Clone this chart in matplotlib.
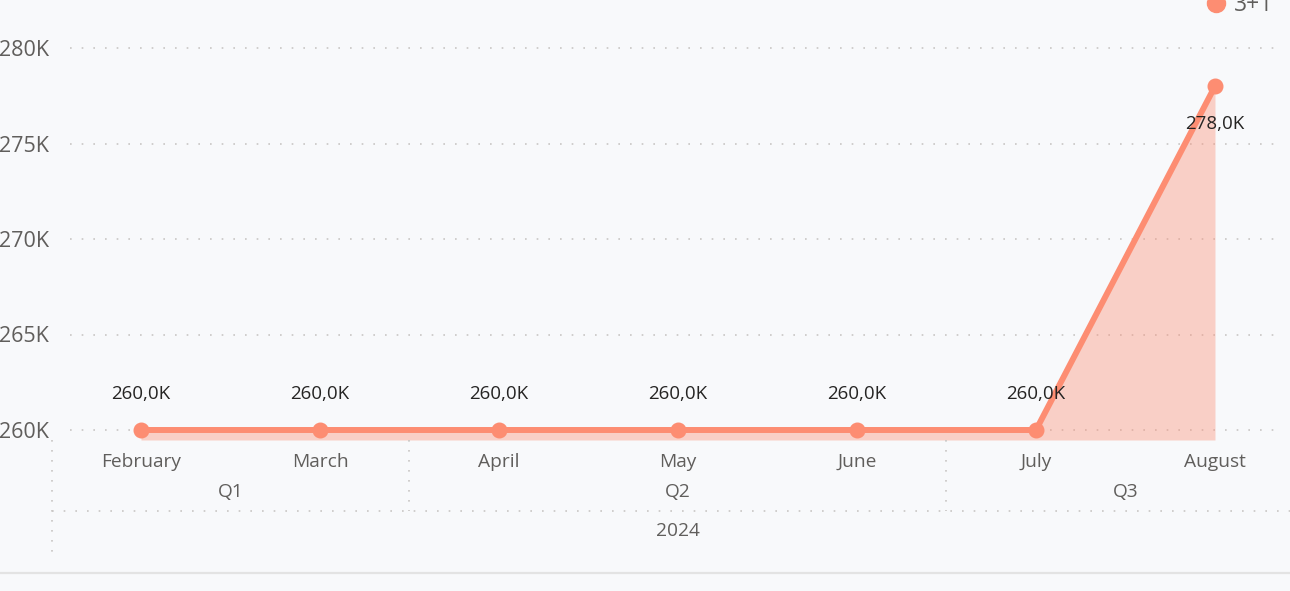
import matplotlib
matplotlib.use("Agg")
import matplotlib.pyplot as plt
from matplotlib.lines import Line2D
from matplotlib import transforms
import numpy as np

months = ["February", "March", "April", "May", "June", "July", "August"]
values_k = [260.0, 260.0, 260.0, 260.0, 260.0, 260.0, 278.0]
quarters = ["Q1", "Q2", "Q3"]
quarter_groups = [[0, 1], [2, 3, 4], [5, 6]]
year_label = "2024"
series_name = "3+1"
yticks_k = [260, 265, 270, 275, 280]

LINE = "#FD8D72"
BG = "#F8F9FB"
AXIS_TXT = "#605E5C"
DATA_TXT = "#252423"
GRID = "#C8C6C4"
FONT = "Open Sans"

W, H = 1290, 591
fig = plt.figure(figsize=(W / 100, H / 100), dpi=100, facecolor=BG)
ax = fig.add_axes([52 / W, 1 - 440 / H, 1 - 52 / W, 440 / H])
ax.set_facecolor(BG)

x = np.arange(len(months))
ybot = 260 - 10 / 19.1
ytop = 260 + 430 / 19.1
ax.set_ylim(ybot, ytop)
ax.set_xlim(-0.497, (1290 - 141) / 179)

# gridlines
for t in yticks_k:
    ax.axhline(t, xmin=18 / 1238, xmax=1228 / 1238, color=GRID, lw=1.2,
               linestyle=(0, (1, 6)), zorder=1)

ax.fill_between(x, values_k, ybot, color=LINE, alpha=0.38, lw=0, zorder=2)
ax.plot(x, values_k, color=LINE, lw=4.3, marker="o", markersize=10.5,
        solid_capstyle="round", zorder=3, label=series_name)

for xi, v in zip(x, values_k):
    off = -27 if (v == max(values_k) and v > min(values_k)) else 26
    ax.annotate(f"{v:.1f}K".replace(".", ","), (xi, v), xytext=(0, off),
                textcoords="offset points", ha="center",
                va="center", fontsize=13.5, color=DATA_TXT, family=FONT, zorder=4)

ax.set_yticks(yticks_k)
ax.set_yticklabels([f"{t}K" for t in yticks_k], fontsize=15.5, color=AXIS_TXT, family=FONT)
ax.set_xticks(x)
ax.set_xticklabels(months, fontsize=13.8, color=AXIS_TXT, family=FONT)
ax.tick_params(axis="both", length=0)
ax.tick_params(axis="y", pad=2)
ax.tick_params(axis="x", pad=9.5)
for s in ax.spines.values():
    s.set_visible(False)

tr = transforms.blended_transform_factory(ax.transData, fig.transFigure)
def fy(p):
    return 1 - p / H

for q, grp in zip(quarters, quarter_groups):
    ax.text(np.mean(grp), fy(492), q, transform=tr, ha="center", va="center",
            fontsize=13.8, color=AXIS_TXT, family=FONT, clip_on=False)
ax.text(np.mean(x), fy(531), year_label, transform=tr, ha="center", va="center",
        fontsize=13.8, color=AXIS_TXT, family=FONT, clip_on=False)

# hierarchy separators
seps = [grp[0] - 0.5 for grp in quarter_groups[1:]]
for sx in seps:
    ax.add_line(Line2D([sx, sx], [fy(440), fy(511)], transform=tr, color=GRID, lw=1.2,
                       linestyle=(0, (1, 5)), clip_on=False))
ax.add_line(Line2D([-0.497, -0.497], [fy(440), fy(552)], transform=tr, color=GRID, lw=1.2,
                   linestyle=(0, (1, 5)), clip_on=False))
fig.add_artist(Line2D([52 / W, 1], [fy(511), fy(511)], transform=fig.transFigure, color=GRID,
                      lw=1.2, linestyle=(0, (1, 6))))
fig.add_artist(Line2D([0, 1], [fy(573), fy(573)], transform=fig.transFigure, color="#E3E3E3",
                      lw=1.6))

handle = Line2D([], [], color=LINE, marker="o", linestyle="None", markersize=13)
leg = fig.legend([handle], [series_name], loc="center left",
                 bbox_to_anchor=(1195 / W, fy(5)), frameon=False, handletextpad=0.3,
                 prop={"family": FONT, "size": 16.5}, borderaxespad=0, handlelength=1.0)
for t in leg.get_texts():
    t.set_color(AXIS_TXT)

fig.savefig("out.png", dpi=100, facecolor=BG)
